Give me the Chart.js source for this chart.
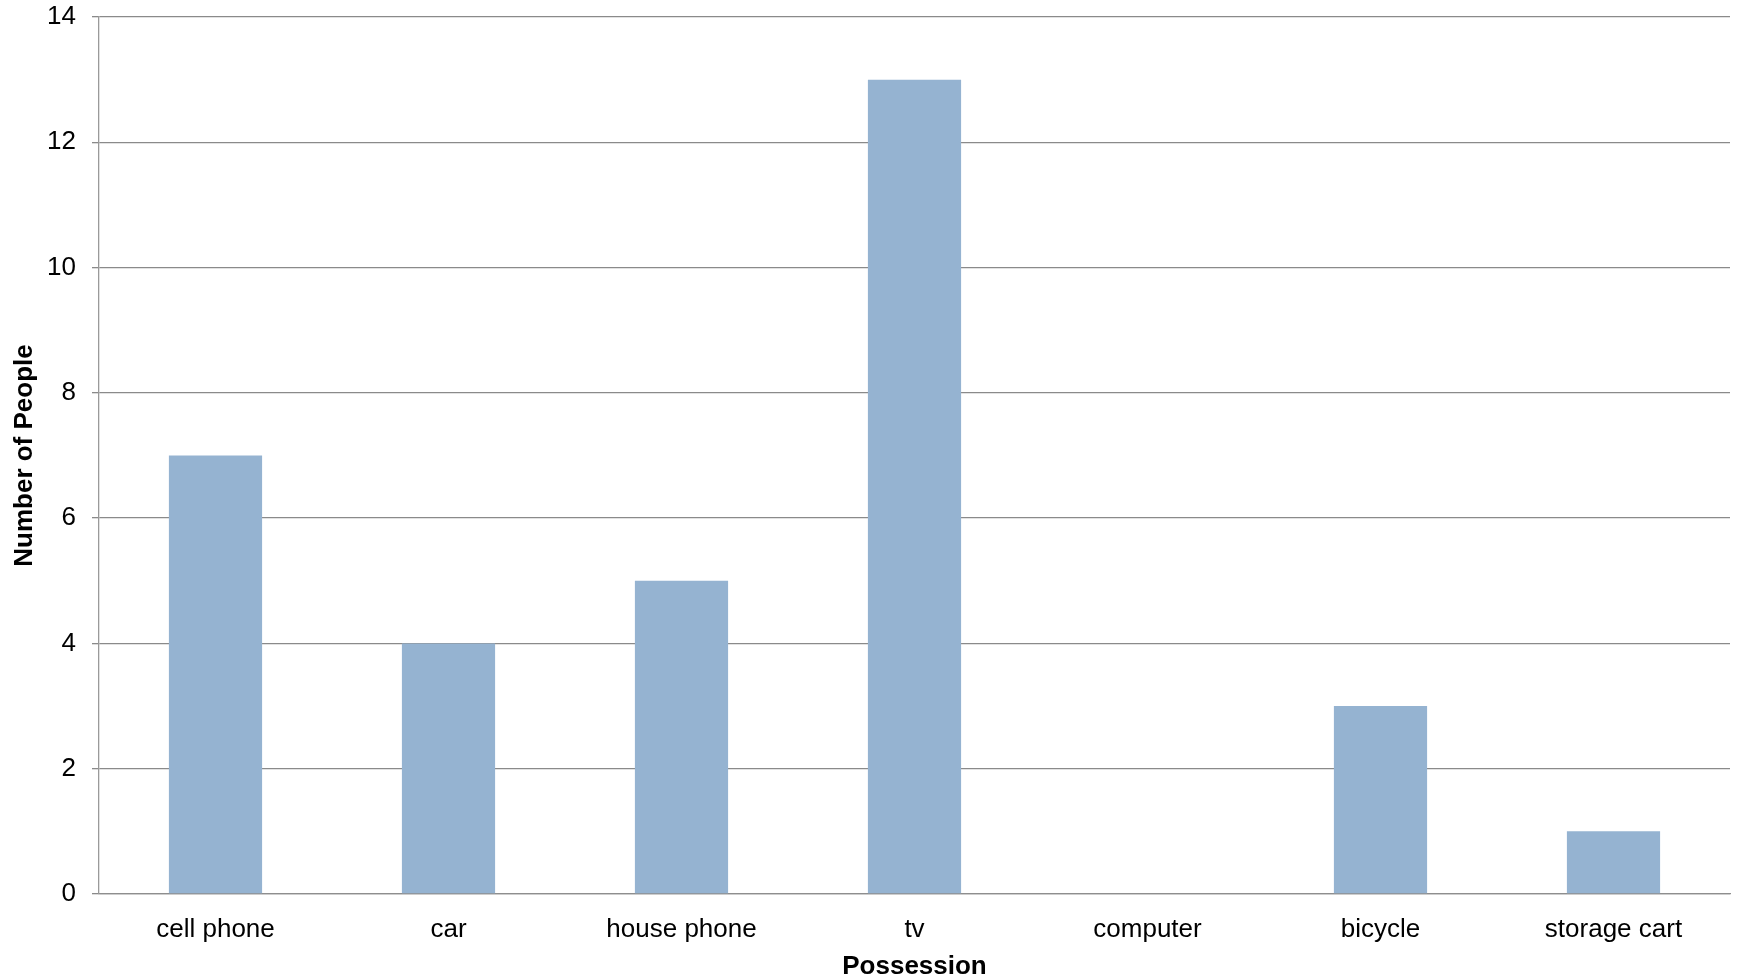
<!DOCTYPE html>
<html>
<head>
<meta charset="utf-8">
<script src="https://cdn.jsdelivr.net/npm/chart.js@4"></script>
<style>
  html, body { margin: 0; padding: 0; background: #fff; }
  #wrap { width: 1739px; height: 977px; }
</style>
</head>
<body>
<div id="wrap"><canvas id="possessionChart"></canvas></div>
<script>
// data
const categories = ['cell phone', 'car', 'house phone', 'tv', 'computer', 'bicycle', 'storage cart'];
const peopleCounts = [7, 4, 5, 13, 0, 3, 1];
const yTicks = [0, 2, 4, 6, 8, 10, 12, 14];

const FONT = 'Liberation Sans, Arial, sans-serif';

const ctx = document.getElementById('possessionChart').getContext('2d');

new Chart(ctx, {
  type: 'bar',
  data: {
    labels: categories,
    datasets: [{
      label: 'Number of People',
      data: peopleCounts,
      backgroundColor: '#95b3d1',
      borderWidth: 0,
      barPercentage: 0.4,
      categoryPercentage: 1.0
    }]
  },
  options: {
    responsive: true,
    maintainAspectRatio: false,
    animation: false,
    layout: { padding: { left: 0, right: 9, top: 17, bottom: 0 } },
    plugins: {
      legend: { display: false },
      tooltip: { enabled: false }
    },
    scales: {
      x: {
        grid: { display: false },
        border: { display: true, color: '#8e8e8e', width: 1.3 },
        ticks: {
          color: '#000',
          padding: 12,
          font: { family: FONT, size: 26 }
        },
        title: {
          display: true,
          text: 'Possession',
          color: '#000',
          padding: { top: 0, bottom: -3 },
          font: { family: FONT, size: 26, weight: 'bold', lineHeight: 1 }
        },
        afterFit: (scale) => { scale.height = 83; scale.paddingLeft = 0; scale.paddingRight = 0; }
      },
      y: {
        min: 0,
        max: 14,
        afterBuildTicks: (scale) => { scale.ticks = yTicks.map(v => ({ value: v })); },
        grid: { color: '#8a8a8a', lineWidth: 1.3, tickLength: 7, drawTicks: true },
        border: { display: true, color: '#9a9a9a', width: 1.3 },
        ticks: {
          color: '#000',
          padding: 16,
          font: { family: FONT, size: 26 }
        },
        title: {
          display: true,
          text: 'Number of People',
          color: '#000',
          padding: { top: 9, bottom: 0 },
          font: { family: FONT, size: 26, weight: 'bold' }
        },
        afterFit: (scale) => { scale.width = 99; scale.paddingTop = 0; scale.paddingBottom = 0; }
      }
    }
  }
});
</script>
</body>
</html>
